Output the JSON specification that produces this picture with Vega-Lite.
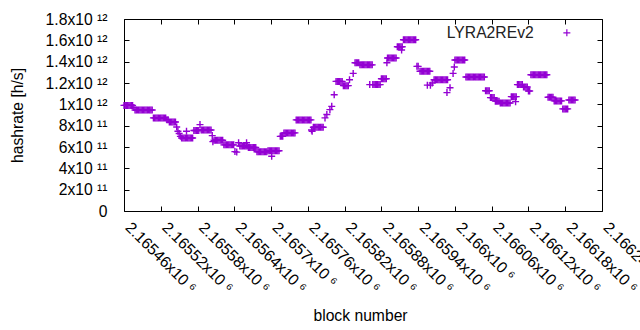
{
"$schema": "https://vega.github.io/schema/vega-lite/v6.json",
"width": 478, "height": 192,
"autosize": "none",
"padding": {"left": 124, "top": 19, "right": 38, "bottom": 119},
"background": "white",
"config": {"view": {"stroke": "black", "strokeWidth": 1}, "font": "Liberation Sans"},
"datasets": {"d": [
{"b":2165460,"h":9.9e11},{"b":2165462,"h":9.9e11},{"b":2165464,"h":9.9e11},{"b":2165466,"h":9.9e11},{"b":2165468,"h":9.9e11},{"b":2165470,"h":9.9e11},{"b":2165472,"h":9.9e11},{"b":2165474,"h":9.9e11},
{"b":2165476,"h":9.7e11},
{"b":2165478,"h":9.47e11},{"b":2165480,"h":9.47e11},{"b":2165482,"h":9.47e11},{"b":2165484,"h":9.47e11},{"b":2165486,"h":9.47e11},{"b":2165488,"h":9.47e11},{"b":2165490,"h":9.47e11},{"b":2165492,"h":9.47e11},{"b":2165494,"h":9.47e11},{"b":2165496,"h":9.47e11},{"b":2165498,"h":9.47e11},{"b":2165500,"h":9.47e11},{"b":2165502,"h":9.47e11},{"b":2165504,"h":9.47e11},{"b":2165506,"h":9.47e11},
{"b":2165508,"h":8.73e11},{"b":2165510,"h":8.73e11},{"b":2165512,"h":8.73e11},{"b":2165514,"h":8.73e11},{"b":2165516,"h":8.73e11},{"b":2165518,"h":8.73e11},{"b":2165520,"h":8.73e11},{"b":2165522,"h":8.73e11},{"b":2165524,"h":8.73e11},{"b":2165526,"h":8.73e11},{"b":2165528,"h":8.73e11},
{"b":2165530,"h":8.55e11},{"b":2165532,"h":8.55e11},
{"b":2165534,"h":8.35e11},{"b":2165536,"h":8.35e11},{"b":2165538,"h":8.35e11},{"b":2165540,"h":8.35e11},{"b":2165542,"h":8.35e11},{"b":2165544,"h":8.35e11},
{"b":2165546,"h":7.88e11},{"b":2165548,"h":7.47e11},{"b":2165550,"h":7.26e11},{"b":2165552,"h":7.0e11},
{"b":2165554,"h":6.85e11},{"b":2165556,"h":6.85e11},{"b":2165558,"h":6.85e11},{"b":2165560,"h":6.85e11},{"b":2165562,"h":6.85e11},{"b":2165564,"h":6.85e11},{"b":2165566,"h":6.85e11},{"b":2165568,"h":6.85e11},{"b":2165570,"h":6.85e11},{"b":2165572,"h":6.85e11},
{"b":2165562,"h":7.47e11},
{"b":2165574,"h":7.54e11},{"b":2165576,"h":7.54e11},{"b":2165578,"h":7.54e11},{"b":2165580,"h":7.54e11},{"b":2165582,"h":7.54e11},
{"b":2165584,"h":8.1e11},
{"b":2165586,"h":7.6e11},{"b":2165588,"h":7.6e11},{"b":2165590,"h":7.6e11},{"b":2165592,"h":7.6e11},{"b":2165594,"h":7.6e11},{"b":2165596,"h":7.6e11},{"b":2165598,"h":7.6e11},{"b":2165600,"h":7.6e11},{"b":2165602,"h":7.6e11},
{"b":2165604,"h":7.07e11},{"b":2165605,"h":6.5e11},
{"b":2165607,"h":6.63e11},{"b":2165609,"h":6.63e11},{"b":2165611,"h":6.63e11},{"b":2165613,"h":6.63e11},{"b":2165615,"h":6.63e11},{"b":2165617,"h":6.63e11},{"b":2165619,"h":6.63e11},{"b":2165621,"h":6.63e11},
{"b":2165623,"h":6.2e11},{"b":2165625,"h":6.2e11},{"b":2165627,"h":6.2e11},{"b":2165629,"h":6.2e11},{"b":2165631,"h":6.2e11},{"b":2165633,"h":6.2e11},{"b":2165635,"h":6.2e11},{"b":2165637,"h":6.2e11},{"b":2165639,"h":6.2e11},
{"b":2165641,"h":5.57e11},{"b":2165644,"h":5.52e11},{"b":2165647,"h":6.4e11},
{"b":2165649,"h":6.1e11},{"b":2165651,"h":6.1e11},{"b":2165653,"h":6.1e11},{"b":2165655,"h":6.1e11},{"b":2165657,"h":6.1e11},{"b":2165659,"h":6.1e11},{"b":2165661,"h":6.1e11},
{"b":2165660,"h":6.4e11},
{"b":2165663,"h":5.95e11},{"b":2165665,"h":5.95e11},{"b":2165667,"h":5.95e11},{"b":2165669,"h":5.95e11},{"b":2165671,"h":5.95e11},{"b":2165673,"h":5.95e11},{"b":2165675,"h":5.95e11},
{"b":2165677,"h":5.55e11},{"b":2165679,"h":5.55e11},{"b":2165681,"h":5.55e11},{"b":2165683,"h":5.55e11},{"b":2165685,"h":5.55e11},{"b":2165687,"h":5.55e11},{"b":2165689,"h":5.55e11},{"b":2165691,"h":5.55e11},{"b":2165693,"h":5.55e11},
{"b":2165695,"h":5.65e11},{"b":2165697,"h":5.65e11},{"b":2165699,"h":5.65e11},{"b":2165701,"h":5.65e11},{"b":2165703,"h":5.65e11},{"b":2165705,"h":5.65e11},{"b":2165707,"h":5.65e11},{"b":2165709,"h":5.65e11},{"b":2165711,"h":5.65e11},{"b":2165713,"h":5.65e11},
{"b":2165701,"h":5.13e11},
{"b":2165715,"h":7.0e11},{"b":2165717,"h":7.0e11},{"b":2165719,"h":7.0e11},
{"b":2165721,"h":7.32e11},{"b":2165723,"h":7.32e11},{"b":2165725,"h":7.32e11},{"b":2165727,"h":7.32e11},{"b":2165729,"h":7.32e11},{"b":2165731,"h":7.32e11},{"b":2165733,"h":7.32e11},{"b":2165735,"h":7.32e11},{"b":2165737,"h":7.32e11},{"b":2165739,"h":7.32e11},
{"b":2165741,"h":8.54e11},{"b":2165743,"h":8.54e11},{"b":2165745,"h":8.54e11},{"b":2165747,"h":8.54e11},{"b":2165749,"h":8.54e11},{"b":2165751,"h":8.54e11},{"b":2165753,"h":8.54e11},{"b":2165755,"h":8.54e11},{"b":2165757,"h":8.54e11},{"b":2165759,"h":8.54e11},{"b":2165761,"h":8.54e11},{"b":2165763,"h":8.54e11},{"b":2165765,"h":8.54e11},
{"b":2165766,"h":7.6e11},{"b":2165767,"h":7.47e11},
{"b":2165769,"h":7.85e11},{"b":2165771,"h":7.85e11},{"b":2165773,"h":7.85e11},{"b":2165775,"h":7.85e11},{"b":2165777,"h":7.85e11},{"b":2165779,"h":7.85e11},{"b":2165781,"h":7.85e11},{"b":2165783,"h":7.85e11},{"b":2165785,"h":7.85e11},
{"b":2165788,"h":8.73e11},{"b":2165791,"h":9.04e11},{"b":2165796,"h":9.5e11},{"b":2165799,"h":9.81e11},{"b":2165803,"h":1.09e12},
{"b":2165806,"h":1.215e12},{"b":2165808,"h":1.215e12},{"b":2165810,"h":1.215e12},{"b":2165812,"h":1.215e12},{"b":2165814,"h":1.215e12},{"b":2165816,"h":1.215e12},
{"b":2165818,"h":1.175e12},{"b":2165820,"h":1.175e12},{"b":2165822,"h":1.175e12},{"b":2165824,"h":1.175e12},{"b":2165826,"h":1.175e12},
{"b":2165828,"h":1.23e12},{"b":2165834,"h":1.29e12},
{"b":2165837,"h":1.39e12},{"b":2165839,"h":1.39e12},{"b":2165841,"h":1.39e12},{"b":2165843,"h":1.39e12},
{"b":2165845,"h":1.37e12},{"b":2165847,"h":1.37e12},{"b":2165849,"h":1.37e12},{"b":2165851,"h":1.37e12},{"b":2165853,"h":1.37e12},{"b":2165855,"h":1.37e12},{"b":2165857,"h":1.37e12},{"b":2165859,"h":1.37e12},{"b":2165861,"h":1.37e12},{"b":2165863,"h":1.37e12},{"b":2165865,"h":1.37e12},
{"b":2165861,"h":1.185e12},
{"b":2165866,"h":1.185e12},{"b":2165868,"h":1.185e12},{"b":2165870,"h":1.185e12},{"b":2165872,"h":1.185e12},{"b":2165874,"h":1.185e12},{"b":2165876,"h":1.185e12},{"b":2165878,"h":1.185e12},
{"b":2165880,"h":1.24e12},{"b":2165882,"h":1.24e12},{"b":2165884,"h":1.24e12},{"b":2165886,"h":1.24e12},{"b":2165888,"h":1.24e12},
{"b":2165889,"h":1.39e12},
{"b":2165890,"h":1.434e12},{"b":2165892,"h":1.434e12},{"b":2165894,"h":1.434e12},{"b":2165896,"h":1.434e12},{"b":2165898,"h":1.434e12},{"b":2165900,"h":1.434e12},{"b":2165902,"h":1.434e12},{"b":2165904,"h":1.434e12},
{"b":2165906,"h":1.54e12},{"b":2165908,"h":1.54e12},{"b":2165910,"h":1.54e12},{"b":2165912,"h":1.54e12},{"b":2165914,"h":1.54e12},
{"b":2165913,"h":1.51e12},
{"b":2165916,"h":1.606e12},{"b":2165918,"h":1.606e12},{"b":2165920,"h":1.606e12},{"b":2165922,"h":1.606e12},{"b":2165924,"h":1.606e12},{"b":2165926,"h":1.606e12},{"b":2165928,"h":1.606e12},{"b":2165930,"h":1.606e12},{"b":2165932,"h":1.606e12},{"b":2165934,"h":1.606e12},{"b":2165936,"h":1.606e12},
{"b":2165938,"h":1.356e12},{"b":2165940,"h":1.356e12},
{"b":2165943,"h":1.31e12},{"b":2165945,"h":1.31e12},{"b":2165947,"h":1.31e12},{"b":2165949,"h":1.31e12},{"b":2165951,"h":1.31e12},{"b":2165953,"h":1.31e12},{"b":2165955,"h":1.31e12},{"b":2165957,"h":1.31e12},{"b":2165959,"h":1.31e12},
{"b":2165955,"h":1.18e12},{"b":2165960,"h":1.18e12},{"b":2165963,"h":1.2e12},
{"b":2165966,"h":1.23e12},{"b":2165968,"h":1.23e12},{"b":2165970,"h":1.23e12},{"b":2165972,"h":1.23e12},{"b":2165974,"h":1.23e12},{"b":2165976,"h":1.23e12},{"b":2165978,"h":1.23e12},{"b":2165980,"h":1.23e12},{"b":2165982,"h":1.23e12},{"b":2165984,"h":1.23e12},{"b":2165986,"h":1.23e12},{"b":2165988,"h":1.23e12},
{"b":2165987,"h":1.11e12},{"b":2165992,"h":1.156e12},{"b":2165997,"h":1.29e12},{"b":2165999,"h":1.35e12},
{"b":2166000,"h":1.416e12},{"b":2166002,"h":1.416e12},{"b":2166004,"h":1.416e12},{"b":2166006,"h":1.416e12},{"b":2166008,"h":1.416e12},{"b":2166010,"h":1.416e12},{"b":2166012,"h":1.416e12},{"b":2166014,"h":1.416e12},{"b":2166016,"h":1.416e12},
{"b":2166018,"h":1.256e12},{"b":2166020,"h":1.256e12},{"b":2166022,"h":1.256e12},{"b":2166024,"h":1.256e12},{"b":2166026,"h":1.256e12},{"b":2166028,"h":1.256e12},{"b":2166030,"h":1.256e12},{"b":2166032,"h":1.256e12},{"b":2166034,"h":1.256e12},{"b":2166036,"h":1.256e12},{"b":2166038,"h":1.256e12},{"b":2166040,"h":1.256e12},{"b":2166042,"h":1.256e12},{"b":2166044,"h":1.256e12},{"b":2166046,"h":1.256e12},{"b":2166048,"h":1.256e12},
{"b":2166050,"h":1.128e12},{"b":2166052,"h":1.128e12},{"b":2166054,"h":1.128e12},{"b":2166056,"h":1.128e12},
{"b":2166058,"h":1.063e12},{"b":2166060,"h":1.063e12},{"b":2166062,"h":1.063e12},{"b":2166064,"h":1.063e12},
{"b":2166066,"h":1.03e12},{"b":2166068,"h":1.03e12},{"b":2166070,"h":1.03e12},{"b":2166072,"h":1.03e12},
{"b":2166074,"h":1.013e12},{"b":2166076,"h":1.013e12},{"b":2166078,"h":1.013e12},{"b":2166080,"h":1.013e12},{"b":2166082,"h":1.013e12},{"b":2166084,"h":1.013e12},{"b":2166086,"h":1.013e12},{"b":2166088,"h":1.013e12},{"b":2166090,"h":1.013e12},
{"b":2166092,"h":1.072e12},{"b":2166094,"h":1.072e12},{"b":2166096,"h":1.072e12},{"b":2166098,"h":1.072e12},{"b":2166100,"h":1.072e12},
{"b":2166099,"h":1.025e12},
{"b":2166102,"h":1.185e12},{"b":2166104,"h":1.185e12},{"b":2166106,"h":1.185e12},{"b":2166108,"h":1.185e12},{"b":2166110,"h":1.185e12},
{"b":2166112,"h":1.163e12},{"b":2166114,"h":1.163e12},{"b":2166116,"h":1.163e12},{"b":2166118,"h":1.163e12},
{"b":2166120,"h":1.125e12},{"b":2166122,"h":1.125e12},
{"b":2166124,"h":1.278e12},{"b":2166126,"h":1.278e12},{"b":2166128,"h":1.278e12},{"b":2166130,"h":1.278e12},{"b":2166132,"h":1.278e12},{"b":2166134,"h":1.278e12},{"b":2166136,"h":1.278e12},{"b":2166138,"h":1.278e12},{"b":2166140,"h":1.278e12},{"b":2166142,"h":1.278e12},{"b":2166144,"h":1.278e12},{"b":2166146,"h":1.278e12},{"b":2166148,"h":1.278e12},{"b":2166150,"h":1.278e12},
{"b":2166152,"h":1.066e12},{"b":2166154,"h":1.066e12},{"b":2166156,"h":1.066e12},{"b":2166158,"h":1.066e12},{"b":2166160,"h":1.066e12},
{"b":2166162,"h":1.032e12},{"b":2166164,"h":1.032e12},{"b":2166166,"h":1.032e12},{"b":2166168,"h":1.032e12},{"b":2166170,"h":1.032e12},{"b":2166172,"h":1.032e12},{"b":2166174,"h":1.032e12},
{"b":2166176,"h":9.57e11},{"b":2166178,"h":9.57e11},{"b":2166180,"h":9.57e11},{"b":2166182,"h":9.57e11},{"b":2166184,"h":9.57e11},
{"b":2166186,"h":1.04e12},{"b":2166188,"h":1.04e12},{"b":2166190,"h":1.04e12},{"b":2166192,"h":1.04e12},{"b":2166194,"h":1.04e12},{"b":2166196,"h":1.04e12}
]},
"layer": [
{
"data": {"name": "d"},
"mark": {"type": "point", "shape": "M-1,0H1M0,-1V1", "filled": false, "strokeWidth": 1.4, "size": 49, "opacity": 1},
"encoding": {
"x": {"field": "b", "type": "quantitative", "scale": {"domain": [2165460, 2166240], "nice": false, "zero": false},
"axis": {"values": [2165460,2165520,2165580,2165640,2165700,2165760,2165820,2165880,2165940,2166000,2166060,2166120,2166180,2166240],
"labelExpr": "format(datum.value/1e6,'.5~f')+'x10 ⁶'", "labelAngle": 45, "labelAlign": "left", "labelBaseline": "alphabetic", "labelPadding": 22,
"tickSize": -5, "tickColor": "black", "domain": false, "grid": false, "labelFontSize": 15.7, "labelColor": "black", "labelOverlap": false, "labelBound": false, "labelFlush": false,
"title": "block number", "titleFontSize": 15.7, "titleFontWeight": "normal", "titleColor": "black", "titleX": 236, "titleY": 104, "titleBaseline": "middle", "titleAlign": "center"}},
"y": {"field": "h", "type": "quantitative", "scale": {"domain": [0, 1.8e12], "nice": false},
"axis": {"values": [0,2e11,4e11,6e11,8e11,1e12,1.2e12,1.4e12,1.6e12,1.8e12],
"labelExpr": "datum.value==0?'0':(datum.value<9.9e11?format(datum.value/1e11,'~g')+'x10 ¹¹':format(datum.value/1e12,'~g')+'x10 ¹²')",
"labelPadding": 22, "tickSize": -5, "tickColor": "black", "domain": false, "grid": false, "labelFontSize": 15.7, "labelColor": "black", "labelBaseline": "middle",
"title": "hashrate [h/s]", "titleFontSize": 15.7, "titleFontWeight": "normal", "titleColor": "black", "titleAngle": -90, "titleX": -107, "titleY": 96, "titleAlign": "center", "titleBaseline": "middle"}},
"color": {"datum": "LYRA2REv2", "type": "nominal", "scale": {"range": ["#9400D3"]},
"legend": {"orient": "none", "legendX": 435, "legendY": 6, "title": null, "padding": 0, "labelAlign": "right", "labelOffset": -41, "labelFontSize": 15.7, "labelColor": "#222222", "symbolType": "M-1,0H1M0,-1V1", "symbolSize": 49, "symbolStrokeWidth": 1.2}}
}
},
{
"data": {"name": "d"},
"mark": {"type": "point", "opacity": 0},
"encoding": {
"x": {"field": "b", "type": "quantitative", "axis": {"orient": "top", "values": [2165460,2165520,2165580,2165640,2165700,2165760,2165820,2165880,2165940,2166000,2166060,2166120,2166180,2166240], "labels": false, "tickSize": -5, "tickColor": "black", "domain": false, "grid": false, "title": null}},
"y": {"field": "h", "type": "quantitative", "axis": {"orient": "right", "values": [0,2e11,4e11,6e11,8e11,1e12,1.2e12,1.4e12,1.6e12,1.8e12], "labels": false, "tickSize": -5, "tickColor": "black", "domain": false, "grid": false, "title": null}}
}
}
],
"resolve": {"axis": {"x": "independent", "y": "independent"}}
}
